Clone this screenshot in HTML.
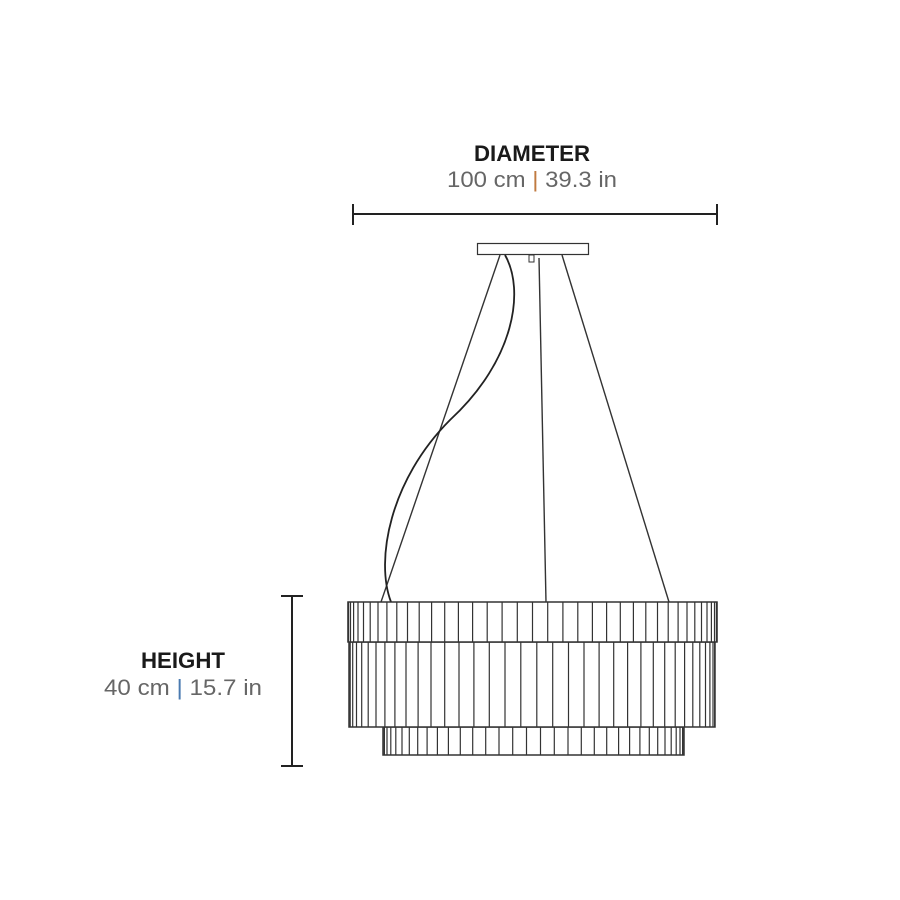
<!DOCTYPE html>
<html><head><meta charset="utf-8"><style>
html,body{margin:0;padding:0;background:#fff;width:900px;height:900px;overflow:hidden}
svg{display:block}
</style></head><body>
<svg id="s" width="900" height="900" viewBox="0 0 900 900" xmlns="http://www.w3.org/2000/svg">
<g font-family="Liberation Sans, sans-serif" text-anchor="middle">
<text x="532" y="161" font-size="22" font-weight="bold" fill="#1a1a1a" textLength="116" lengthAdjust="spacingAndGlyphs">DIAMETER</text>
<text x="532" y="187" font-size="22" fill="#666" textLength="170" lengthAdjust="spacingAndGlyphs">100 cm <tspan fill="#c07a40">|</tspan> 39.3 in</text>
<text x="183" y="668" font-size="22" font-weight="bold" fill="#1a1a1a" textLength="84" lengthAdjust="spacingAndGlyphs">HEIGHT</text>
<text x="183" y="695" font-size="22" fill="#666" textLength="158" lengthAdjust="spacingAndGlyphs">40 cm <tspan fill="#4a7ab0">|</tspan> 15.7 in</text>
</g>
<g stroke="#222" stroke-width="2" fill="none">
<line x1="353" y1="214" x2="717" y2="214"/>
<line x1="353" y1="204" x2="353" y2="225"/>
<line x1="717" y1="204" x2="717" y2="225"/>
<line x1="292" y1="596" x2="292" y2="766"/>
<line x1="281" y1="596" x2="303" y2="596"/>
<line x1="281" y1="766" x2="303" y2="766"/>
</g>
<rect x="477.5" y="243.5" width="111" height="11" fill="#fff" stroke="#333" stroke-width="1.2"/>
<rect x="529" y="255" width="5" height="7" fill="none" stroke="#333" stroke-width="1"/>
<g stroke="#333" stroke-width="1.4" fill="none">
<line x1="500" y1="255" x2="381" y2="602"/>
<line x1="539" y1="258" x2="546" y2="602"/>
<line x1="562" y1="255" x2="669" y2="602"/>
<path d="M505 255 C525 290 515 360 450 420 C390 480 375 560 391 602" stroke="#222" stroke-width="1.8"/>
</g>
<g id="lamp"></g>
</svg>
<script>
var g=document.getElementById('lamp'),ns='http://www.w3.org/2000/svg';
function el(t,a){var e=document.createElementNS(ns,t);for(var k in a)e.setAttribute(k,a[k]);g.appendChild(e);}
function band(x0,x1,y0,y1,n,off){
 el('rect',{x:x0,y:y0,width:x1-x0,height:y1-y0,fill:'#fff',stroke:'#333','stroke-width':1.5});
 var c=(x0+x1)/2,r=(x1-x0)/2;
 for(var i=0;i<=n;i++){var a=Math.PI*(i+off)/n;var x=c-r*Math.cos(a);
  el('line',{x1:x.toFixed(1),y1:y0,x2:x.toFixed(1),y2:y1,stroke:'#333','stroke-width':1.2});}
}
band(383,684,727,755,34,0.5);
band(349,715,642,727,36,0.3);
band(348,717,602,642,38,0);
</script>
</body></html>
